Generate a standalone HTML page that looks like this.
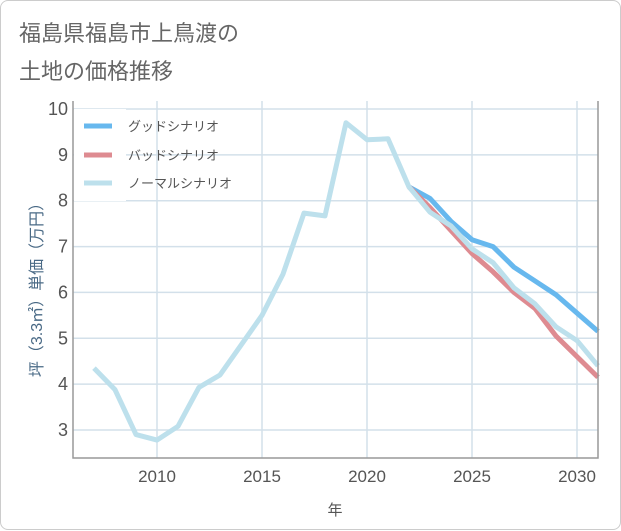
<!DOCTYPE html>
<html><head><meta charset="utf-8"><style>
body{margin:0;background:#fff;font-family:"Liberation Sans","Noto Sans CJK JP",sans-serif;}
#card{position:absolute;left:0;top:0;width:619px;height:528px;border:1px solid #ccc;border-radius:8px;background:#fff;}
</style></head><body>
<div id="card">
<svg id="chart" width="621" height="530" style="position:absolute;left:0;top:0">
<text x="18" y="40" font-size="22" fill="#666">福島県福島市上鳥渡の</text>
<text x="18" y="78" font-size="22" fill="#666">土地の価格推移</text>
<g id="grid"></g><g id="series"></g><g id="axes"></g>
<g>
<rect x="73" y="108" width="52" height="92" fill="#fff"/>
<line x1="83" y1="125" x2="111" y2="125" stroke="#67b8ee" stroke-width="5"/>
<text x="127" y="130" font-size="13" fill="#555">グッドシナリオ</text>
<line x1="83" y1="154" x2="111" y2="154" stroke="#de8b91" stroke-width="5"/>
<text x="127" y="159" font-size="13" fill="#555">バッドシナリオ</text>
<line x1="83" y1="182" x2="111" y2="182" stroke="#bde0ec" stroke-width="5"/>
<text x="127" y="187" font-size="13" fill="#555">ノーマルシナリオ</text>
</g>
<text x="334" y="514" font-size="15" fill="#555" text-anchor="middle">年</text>
<text transform="translate(41,285) rotate(-90)" font-size="16" fill="#4a6a86" text-anchor="middle">坪（3.3㎡）単価（万円）</text>
</svg>
</div>
<script>
const normalYears=[2007,2008,2009,2010,2011,2012,2013,2014,2015,2016,2017,2018,2019,2020,2021,2022,2023,2024,2025,2026,2027,2028,2029,2030,2031];
const normalValues=[4.35,3.88,2.9,2.78,3.08,3.93,4.2,4.85,5.5,6.4,7.73,7.67,9.7,9.33,9.35,8.3,7.75,7.45,6.95,6.65,6.1,5.75,5.25,4.95,4.4];
const forecastYears=[2022,2023,2024,2025,2026,2027,2028,2029,2030,2031];
const goodValues=[8.3,8.05,7.55,7.15,7.0,6.55,6.25,5.95,5.55,5.15];
const badValues=[8.3,7.85,7.35,6.85,6.45,6.0,5.65,5.05,4.6,4.15];
const xTicks=[2010,2015,2020,2025,2030];
const yTicks=[3,4,5,6,7,8,9,10];
const L=72,R=597,T=100,B=457;
const xs=y=>L+(y-2006)*(R-L)/25;
const ys=v=>429-(v-3)*(429-108)/7;
const NS='http://www.w3.org/2000/svg';
function mk(tag,attrs,parent){const e=document.createElementNS(NS,tag);for(const k in attrs)e.setAttribute(k,attrs[k]);parent.appendChild(e);return e;}
const grid=document.getElementById('grid'),axes=document.getElementById('axes'),ser=document.getElementById('series');
xTicks.forEach(t=>{
 const l=mk('line',{x1:xs(t),x2:xs(t),y1:T,y2:B,stroke:'#d3e0ea','stroke-width':1.5},grid);
 
 
 const tx=mk('text',{x:xs(t),y:B+24,'font-size':17,fill:'#555','text-anchor':'middle'},axes);tx.textContent=t;
 
 
});
yTicks.forEach(t=>{
 const l=mk('line',{x1:L,x2:R,y1:ys(t),y2:ys(t),stroke:'#d3e0ea','stroke-width':1.5},grid);
 
 
 const tx=mk('text',{x:L-5,y:ys(t)+6,'font-size':18,fill:'#555','text-anchor':'end'},axes);tx.textContent=t;
 
 
});
const ax=mk('path',{d:`M${L},${T} V${B} H${R} V${T}`,fill:'none',stroke:'#999','stroke-width':1.5},axes);


function line(xv,yv,color,name){
 const p=mk('polyline',{points:xv.map((x,i)=>xs(x)+','+ys(yv[i])).join(' '),fill:'none',stroke:color,'stroke-width':5,'stroke-linejoin':'round'},ser);
 
 
}
line(forecastYears,goodValues,'#67b8ee','good-scenario-line');
line(forecastYears,badValues,'#de8b91','bad-scenario-line');
line(normalYears,normalValues,'#bde0ec','normal-scenario-line');
</script>
</body></html>
